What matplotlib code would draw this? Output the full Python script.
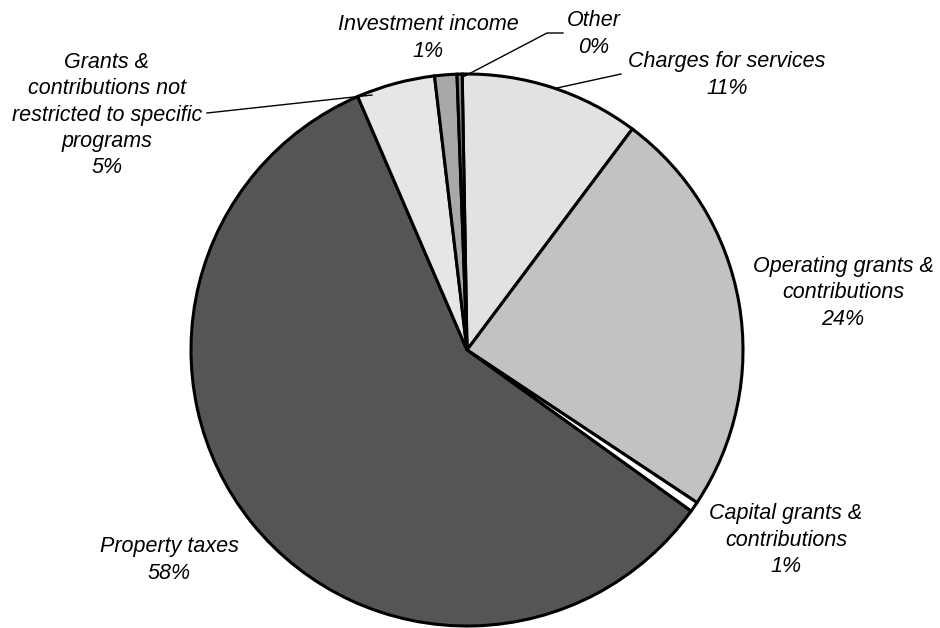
import matplotlib.pyplot as plt

# --- Data ---
categories = ['Charges for services', 'Operating grants &\ncontributions',
              'Capital grants &\ncontributions', 'Property taxes',
              'Grants &\ncontributions not\nrestricted to specific\nprograms',
              'Investment income', 'Other']
shares = [10.5, 24.1, 0.6, 58.6, 4.6, 1.3, 0.3]
pct_labels = ['11%', '24%', '1%', '58%', '5%', '1%', '0%']
colors = ['#e2e2e2', '#c2c2c2', '#ffffff', '#555555', '#e6e6e6', '#a8a8a8', '#8c8c8c']

# label centres in image pixels (x, y from top)
label_pos = [(727, 75), (843, 293), (786, 540), (169, 560), (107, 115), (428, 38), (594, 34)]

W, H = 940, 628

fig = plt.figure(figsize=(9.4, 6.28), dpi=100)
ax = fig.add_axes([0, 0, 1, 1])

ax.pie(shares, colors=colors, startangle=91, counterclock=False,
       center=(467, H - 350), radius=276, frame=True,
       wedgeprops=dict(edgecolor='black', linewidth=2.2))
ax.set_xlim(0, W)
ax.set_ylim(0, H)
ax.set_aspect('equal')
ax.axis('off')

for cat, pct, (x, y) in zip(categories, pct_labels, label_pos):
    ax.text(x, H - y, cat + '\n' + pct, ha='center', va='center',
            fontsize=15.5, style='italic', family='Liberation Sans',
            linespacing=1.32, color='black')

# leader lines (image pixel coords)
leaders = [
    [(463, 77), (547, 33), (563, 33)],   # Other
    [(557, 88), (621, 74)],              # Charges for services
    [(207, 113), (372, 95)],             # Grants not restricted
]
for pts in leaders:
    xs = [p[0] for p in pts]
    ys = [H - p[1] for p in pts]
    ax.plot(xs, ys, color='black', linewidth=1.0)

plt.savefig('out.png', dpi=100)
plt.close()
